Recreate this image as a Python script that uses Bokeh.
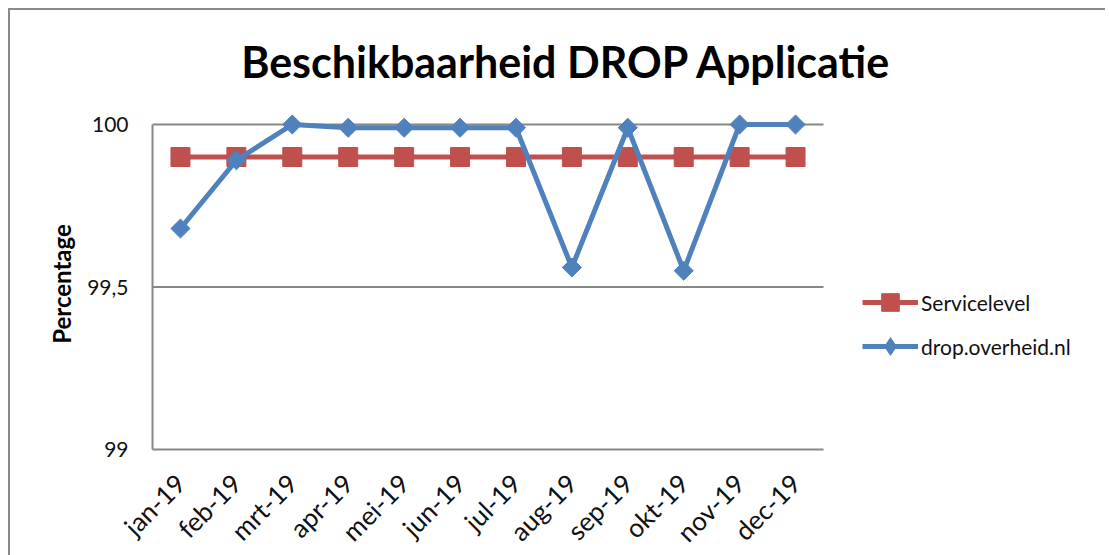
import math
import numpy as np
from bokeh.plotting import figure
from bokeh.models import Range1d, FixedTicker, CustomJSTickFormatter, Legend, Label
from bokeh.embed import file_html
from bokeh.resources import INLINE

months = ["jan-19", "feb-19", "mrt-19", "apr-19", "mei-19", "jun-19",
          "jul-19", "aug-19", "sep-19", "okt-19", "nov-19", "dec-19"]
servicelevel = [99.9] * 12
drop = [99.68, 99.89, 100.0, 99.99, 99.99, 99.99, 99.99, 99.56, 99.99, 99.55, 100.0, 100.0]
y_ticks = [99, 99.5, 100]

FONT = "Lato"
RED = "#C0504D"
BLUE = "#4F81BD"
GRID = "#878787"

n = len(months)
xpos = np.arange(n) + 0.5          # category centres
FRAME_W, FRAME_H = 953, 439        # frame also spans title and legend area
x_end = n * FRAME_W / 671.0        # categories occupy 671 px
y_end = 99 + FRAME_H / 325.0       # one percent-point is 325 px

p = figure(x_range=Range1d(0, x_end), y_range=Range1d(99, y_end),
           frame_width=FRAME_W, frame_height=FRAME_H, title=None,
           output_backend="svg", toolbar_location=None,
           min_border_left=142, min_border_top=0, min_border_right=0,
           min_border_bottom=0)
p.styles = {"margin-left": "8px", "margin-top": "8px",
            "border-left": "2px solid #8a8a8a", "border-top": "2px solid #8a8a8a",
            "border-right": "none", "border-bottom": "none"}
p.outline_line_color = None
p.background_fill_color = "white"
p.border_fill_color = "white"

title = Label(x=414, y=388, x_units="screen", y_units="screen",
              text="Beschikbaarheid DROP Applicatie", text_font=FONT,
              text_font_style="bold", text_font_size="43px", text_color="#000000",
              text_align="center", text_baseline="alphabetic")
p.add_layout(title)

# horizontal grid lines limited to the category area
p.segment(x0=0, x1=n, y0=y_ticks[1:], y1=y_ticks[1:], line_color=GRID, line_width=2)

r1l = p.line(xpos, servicelevel, line_color=RED, line_width=5)
r1m = p.scatter(xpos, servicelevel, marker="square", size=19, fill_color=RED, line_color=RED)
r2l = p.line(xpos, drop, line_color=BLUE, line_width=5)
r2d = p.scatter(xpos, drop, marker="diamond", size=12, fill_color=BLUE, line_color=BLUE)
r2m = p.scatter(xpos, drop, marker="square", angle=math.pi / 4, size=13.5,
                fill_color=BLUE, line_color=BLUE)

legend = Legend(items=[("Servicelevel", [r1l, r1m]), ("drop.overheid.nl", [r2l, r2d])],
                location=(710, 81), padding=0, margin=0, spacing=0,
                glyph_width=56, glyph_height=44, label_height=22, label_standoff=3,
                label_text_font=FONT, label_text_font_size="21px",
                label_text_color="#111111", border_line_color=None,
                background_fill_alpha=0)
p.add_layout(legend, "center")

# axes
p.yaxis.ticker = FixedTicker(ticks=y_ticks)
p.yaxis.bounds = (99, 100)
p.yaxis.formatter = CustomJSTickFormatter(code="return tick.toString().replace('.', ',');")
p.xaxis.ticker = FixedTicker(ticks=list(xpos))
p.xaxis.bounds = (0, n)
p.xaxis.major_label_overrides = {float(x): m for x, m in zip(xpos, months)}
for ax in (p.xaxis[0], p.yaxis[0]):
    ax.axis_line_color = GRID
    ax.axis_line_width = 2
    ax.major_tick_line_color = None
    ax.minor_tick_line_color = None
    ax.major_label_text_font = FONT
    ax.major_label_text_font_size = "21px"
    ax.major_label_text_color = "#111111"
p.xaxis.major_label_text_font_size = "26px"
p.yaxis.major_label_standoff = 18
# trailing en-spaces keep the label centred on the 99-100 part of the axis
p.yaxis.axis_label = "Percentage" + "\u2002" * 9
p.yaxis.axis_label_text_font = FONT
p.yaxis.axis_label_text_font_style = "bold"
p.yaxis.axis_label_text_font_size = "24px"
p.yaxis.axis_label_text_color = "#000000"
p.yaxis.axis_label_standoff = 8
p.xaxis.major_label_orientation = math.pi / 4
p.xaxis.major_label_standoff = 23

p.xgrid.grid_line_color = None
p.ygrid.grid_line_color = None

open("out.html", "w").write(file_html(p, INLINE))
